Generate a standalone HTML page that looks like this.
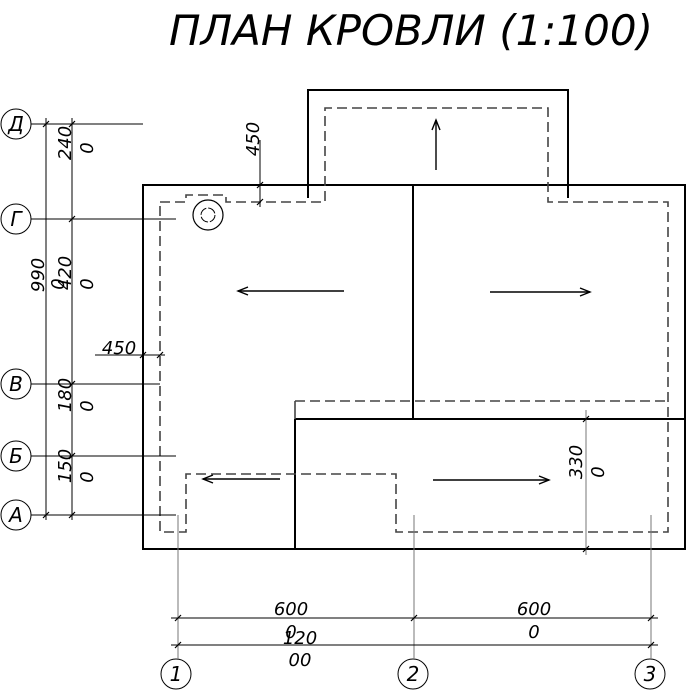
<!DOCTYPE html>
<html><head><meta charset="utf-8"><style>body{margin:0;background:#fff}svg{display:block}text{font-family:"DejaVu Sans","Liberation Sans",sans-serif;font-style:italic;fill:#000}</style></head>
<body>
<svg width="687" height="691" viewBox="0 0 687 691">
<text x="169" y="45" font-size="42">ПЛАН КРОВЛИ (1:100)</text>
<g fill="none" stroke="#000" stroke-width="2">
<rect x="143" y="185" width="542" height="364"/>
<polyline points="308,198 308,90 568,90 568,198"/>
<line x1="413" y1="185" x2="413" y2="419"/>
<line x1="295" y1="419" x2="685" y2="419"/>
<line x1="295" y1="419" x2="295" y2="549"/>
</g>
<g fill="none" stroke="#444" stroke-width="1.6" stroke-dasharray="10,5">
<polyline points="160,202 186,202 186,195 226,195 226,202 325,202 325,108 548,108 548,202 668,202 668,532 396,532 396,474 186,474 186,532 160,532 160,202"/>
<line x1="295" y1="401" x2="668" y2="401"/>
</g>
<line x1="295" y1="401" x2="295" y2="419" stroke="#444" stroke-width="1.6"/>
<circle cx="208" cy="215" r="15" fill="none" stroke="#000" stroke-width="1.2"/>
<circle cx="208" cy="215" r="7" fill="none" stroke="#000" stroke-dasharray="9,2"/>
<g stroke="#000" stroke-width="1.4" fill="none">
<line x1="344" y1="291" x2="238" y2="291"/><polyline points="248,287 238,291 248,295"/>
<line x1="490" y1="292" x2="590" y2="292"/><polyline points="580,288 590,292 580,296"/>
<line x1="436" y1="170" x2="436" y2="120"/><polyline points="432,130 436,120 440,130"/>
<line x1="280" y1="479" x2="203" y2="479"/><polyline points="213,475 203,479 213,483"/>
<line x1="433" y1="480" x2="549" y2="480"/><polyline points="539,476 549,480 539,484"/>
</g>
<g stroke="#000" stroke-width="1" fill="none">
<circle cx="16" cy="124" r="15"/><circle cx="16" cy="219" r="15"/><circle cx="16" cy="384" r="15"/><circle cx="16" cy="456" r="15"/><circle cx="16" cy="515" r="15"/>
<line x1="31" y1="124" x2="143" y2="124"/><line x1="31" y1="219" x2="176" y2="219"/><line x1="31" y1="384" x2="160" y2="384"/><line x1="31" y1="456" x2="176" y2="456"/><line x1="31" y1="515" x2="176" y2="515"/>
<line x1="46" y1="118" x2="46" y2="520"/><line x1="72" y1="118" x2="72" y2="520"/>
<line x1="95" y1="355" x2="165" y2="355"/>
<line x1="260" y1="140" x2="260" y2="207"/>
<line x1="586" y1="410" x2="586" y2="555" stroke="#777"/>
<circle cx="176" cy="674" r="15"/><circle cx="413" cy="674" r="15"/><circle cx="650" cy="674" r="15"/>
<line x1="178" y1="515" x2="178" y2="659" stroke="#777"/><line x1="414" y1="515" x2="414" y2="659" stroke="#777"/><line x1="651" y1="515" x2="651" y2="659" stroke="#777"/>
<line x1="171" y1="618" x2="658" y2="618"/><line x1="171" y1="645" x2="658" y2="645"/>
</g>
<g stroke="#000" stroke-width="1.2">
<line x1="43" y1="127" x2="49" y2="121"/><line x1="69" y1="127" x2="75" y2="121"/>
<line x1="69" y1="222" x2="75" y2="216"/><line x1="69" y1="387" x2="75" y2="381"/><line x1="69" y1="459" x2="75" y2="453"/>
<line x1="43" y1="518" x2="49" y2="512"/><line x1="69" y1="518" x2="75" y2="512"/>
<line x1="140" y1="358" x2="146" y2="352"/><line x1="157" y1="358" x2="163" y2="352"/>
<line x1="257" y1="188" x2="263" y2="182"/><line x1="257" y1="205" x2="263" y2="199"/>
<line x1="583" y1="422" x2="589" y2="416"/><line x1="583" y1="552" x2="589" y2="546"/>
<line x1="175" y1="621" x2="181" y2="615"/><line x1="411" y1="621" x2="417" y2="615"/><line x1="648" y1="621" x2="654" y2="615"/>
<line x1="175" y1="648" x2="181" y2="642"/><line x1="648" y1="648" x2="654" y2="642"/>
</g>
<g font-size="20" text-anchor="middle">
<text x="16" y="131">Д</text><text x="16" y="226">Г</text><text x="16" y="391">В</text><text x="16" y="463">Б</text><text x="16" y="522">А</text>
<text x="176" y="681">1</text><text x="413" y="681">2</text><text x="650" y="681">3</text>
</g>
<g font-size="18" text-anchor="middle">
<text x="119" y="354">450</text>
<text x="291" y="615">600</text><text x="291" y="638">0</text>
<text x="300" y="644">120</text><text x="300" y="666">00</text>
<text x="534" y="615">600</text><text x="534" y="638">0</text>
<text transform="translate(71,143) rotate(-90)">240</text><text transform="translate(93,148) rotate(-90)">0</text>
<text transform="translate(44,275) rotate(-90)">990</text><text transform="translate(64,284) rotate(-90)">0</text>
<text transform="translate(71,273) rotate(-90)">420</text><text transform="translate(93,284) rotate(-90)">0</text>
<text transform="translate(71,395) rotate(-90)">180</text><text transform="translate(93,406) rotate(-90)">0</text>
<text transform="translate(71,466) rotate(-90)">150</text><text transform="translate(93,477) rotate(-90)">0</text>
<text transform="translate(259,139) rotate(-90)">450</text>
<text transform="translate(582,462) rotate(-90)">330</text><text transform="translate(604,472) rotate(-90)">0</text>
</g>
</svg>
</body></html>
